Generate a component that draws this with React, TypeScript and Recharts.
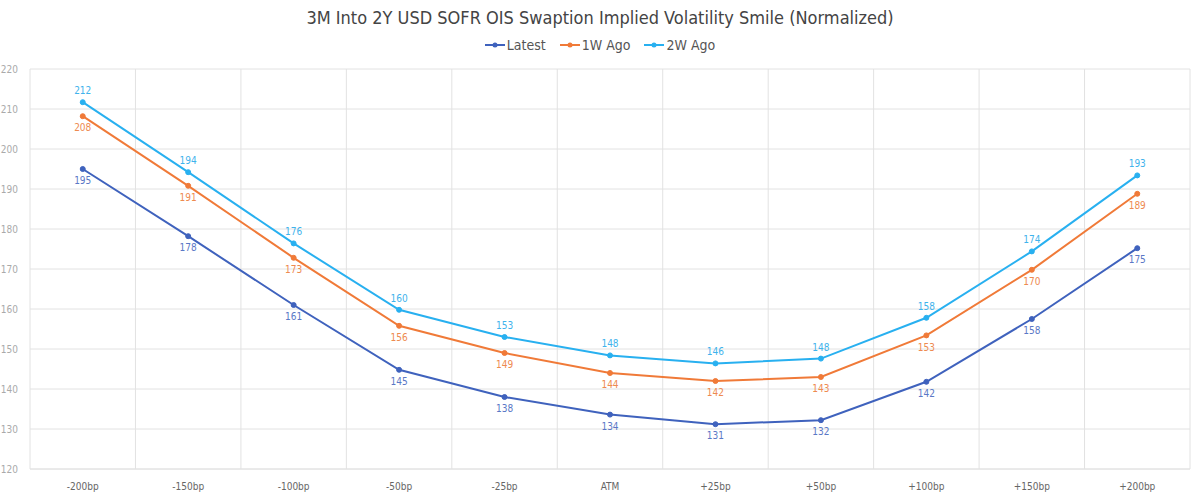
import { CartesianGrid, Line, LineChart, XAxis, YAxis, LabelList } from "recharts";

const categories = ["-200bp", "-150bp", "-100bp", "-50bp", "-25bp", "ATM", "+25bp", "+50bp", "+100bp", "+150bp", "+200bp"];
const latest = [195.0, 178.2, 161.0, 144.8, 138.0, 133.6, 131.2, 132.2, 141.8, 157.5, 175.2];
const oneWeekAgo = [208.2, 190.8, 172.8, 155.8, 149.0, 144.0, 142.0, 143.0, 153.4, 169.8, 188.8];
const twoWeeksAgo = [211.7, 194.2, 176.4, 159.8, 153.0, 148.4, 146.4, 147.6, 157.8, 174.4, 193.4];
const yTicks = [120, 130, 140, 150, 160, 170, 180, 190, 200, 210, 220];

const series = [
  { key: "latest", name: "Latest", color: "#3f62bd", labelColor: "#5a78c6", pos: "bottom" as const },
  { key: "w1", name: "1W Ago", color: "#f07a38", labelColor: "#ee8a50", pos: "bottom" as const },
  { key: "w2", name: "2W Ago", color: "#28b0f0", labelColor: "#3fb3ec", pos: "top" as const },
];

const data = categories.map((c, i) => ({
  cat: c,
  latest: latest[i],
  w1: oneWeekAgo[i],
  w2: twoWeeksAgo[i],
}));

const FONT = "'Liberation Sans Narrow', 'DejaVu Sans Condensed', Roboto, sans-serif";

function Legend() {
  return (
    <div style={{ display: "flex", justifyContent: "center", gap: 14, fontSize: 14, color: "#555", fontFamily: FONT }}>
      {series.map((s) => (
        <div key={s.key} style={{ display: "flex", alignItems: "center", gap: 2 }}>
          <svg width={20} height={10}>
            <line x1={0} y1={5} x2={20} y2={5} stroke={s.color} strokeWidth={2} />
            <circle cx={10} cy={5} r={2.5} fill={s.color} />
          </svg>
          <span>{s.name}</span>
        </div>
      ))}
    </div>
  );
}

export default function App() {
  return (
    <div style={{ position: "fixed", left: 0, top: 0, width: 1200, height: 493, background: "#fff", fontFamily: FONT }}>
      <div style={{ textAlign: "center", fontSize: 18, color: "#444", marginTop: 7, height: 24 }}>
        3M Into 2Y USD SOFR OIS Swaption Implied Volatility Smile (Normalized)
      </div>
      <div style={{ marginTop: 6, height: 20 }}>
        <Legend />
      </div>
      <LineChart
        width={1200}
        height={436}
        data={data}
        margin={{ top: 12, right: 10, bottom: 0, left: 0 }}
      >
        <CartesianGrid
          stroke="#e2e2e2"
          verticalCoordinatesGenerator={({ offset }: any) =>
            categories.map((_, i) => offset.left + (i * offset.width) / categories.length).concat(offset.left + offset.width)
          }
        />
        <XAxis
          dataKey="cat"
          scale="band"
          axisLine={{ stroke: "#e2e2e2" }}
          tickLine={false}
          tick={{ fontSize: 10, fill: "#666", fontFamily: FONT }}
          tickMargin={8}
          height={24}
        />
        <YAxis
          domain={[120, 220]}
          ticks={yTicks}
          axisLine={false}
          tickLine={false}
          tick={{ fontSize: 10, fill: "#aaa", fontFamily: FONT }}
          width={30}
          tickMargin={6}
        />
        {series.map((s) => (
          <Line
            key={s.key}
            dataKey={s.key}
            name={s.name}
            stroke={s.color}
            strokeWidth={2}
            dot={{ r: 2.5, fill: s.color, stroke: s.color, strokeWidth: 1 }}
            activeDot={false}
            isAnimationActive={false}
          >
            <LabelList
              dataKey={s.key}
              position={s.pos}
              offset={8}
              formatter={(v: number) => Math.round(v)}
              style={{ fontSize: 10, fill: s.labelColor, fontFamily: FONT }}
            />
          </Line>
        ))}
      </LineChart>
    </div>
  );
}
